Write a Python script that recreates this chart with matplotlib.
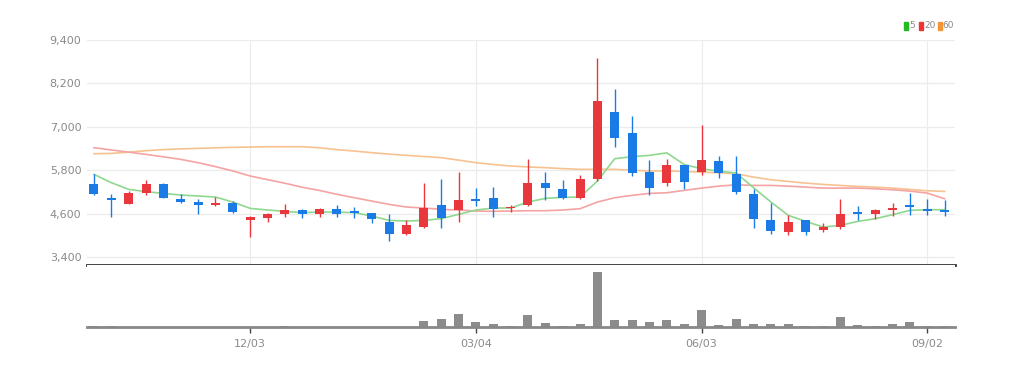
import matplotlib
matplotlib.use("Agg")
import matplotlib.pyplot as plt
from matplotlib.patches import Rectangle
import numpy as np

# ---- data (weekly candles) ----
opens  = [5428, 5040, 4874, 5179, 5428, 4994, 4921, 4828, 4902, 4414,
          4469, 4579, 4690, 4579, 4718, 4672, 4607, 4377, 4027, 4238,
          4828, 4699, 5012, 5040, 4746, 4828, 5455, 5289, 5031, 5547,
          7418, 6819, 5759, 5455, 5950, 5748, 6042, 5702, 5150, 4414,
          4092, 4414, 4138, 4230, 4644, 4598, 4699, 4828, 4727, 4690]
closes = [5133, 4967, 5160, 5428, 5040, 4921, 4837, 4885, 4653, 4515,
          4580, 4699, 4580, 4718, 4579, 4626, 4460, 4027, 4275, 4764,
          4469, 4976, 4948, 4736, 4792, 5437, 5308, 5040, 5547, 7713,
          6681, 5732, 5317, 5944, 5471, 6079, 5729, 5196, 4441, 4120,
          4369, 4092, 4230, 4579, 4598, 4690, 4764, 4773, 4671, 4644]
highs  = [5686, 5133, 5225, 5520, 5440, 5133, 4994, 5068, 4948, 4530,
          4625, 4874, 4718, 4764, 4830, 4783, 4625, 4580, 4414, 5437,
          5566, 5750, 5317, 5335, 4828, 6100, 5750, 5520, 5658, 8911,
          8036, 7299, 6073, 6100, 5950, 7063, 6190, 6180, 5288, 4892,
          4570, 4414, 4340, 4993, 4800, 4736, 4892, 5168, 4993, 4966]
lows   = [5115, 4515, 4855, 5105, 5030, 4902, 4597, 4810, 4625, 3944,
          4368, 4515, 4487, 4515, 4515, 4487, 4350, 3843, 4000, 4210,
          4192, 4377, 4810, 4515, 4644, 4810, 4976, 4994, 5013, 5500,
          6441, 5640, 5115, 5363, 5268, 5656, 5590, 5131, 4211, 4027,
          4000, 4000, 4092, 4165, 4414, 4460, 4534, 4570, 4552, 4534]
volumes = [0.8, 0.8, 0.3, 0.3, 0.3, 0.3, 0.3, 0.3, 0.3, 0.3,
           0.3, 0.8, 0.3, 0.3, 0.3, 0.3, 0.3, 0.3, 0.3, 6.0,
           7.7, 12.7, 4.7, 2.7, 1.0, 12.3, 4.3, 1.0, 3.0, 54.7,
           7.3, 7.3, 4.7, 7.3, 3.0, 17.3, 2.3, 8.0, 3.0, 2.7,
           3.0, 1.0, 1.0, 9.7, 2.3, 1.0, 2.7, 4.7, 0.7, 0.7]
ma5  = [5686, 5456, 5271, 5207, 5160, 5114, 5087, 5059, 4920, 4745,
        4700, 4663, 4626, 4644, 4644, 4626, 4534, 4414, 4396, 4414,
        4460, 4580, 4699, 4755, 4755, 4920, 5022, 5050, 5059, 5500,
        6119, 6174, 6211, 6280, 5959, 5840, 5775, 5720, 5315, 4920,
        4552, 4386, 4230, 4276, 4386, 4460, 4570, 4690, 4708, 4708]
ma20 = [6423, 6360, 6300, 6239, 6170, 6100, 6008, 5900, 5780, 5640,
        5540, 5440, 5330, 5240, 5133, 5040, 4948, 4856, 4783, 4755,
        4718, 4699, 4672, 4663, 4672, 4681, 4681, 4699, 4736, 4920,
        5040, 5105, 5160, 5177, 5242, 5306, 5361, 5398, 5380, 5380,
        5361, 5333, 5306, 5306, 5306, 5287, 5260, 5223, 5168, 5012]
ma60 = [6257, 6265, 6300, 6340, 6370, 6390, 6404, 6420, 6432, 6441,
        6450, 6450, 6450, 6420, 6370, 6330, 6285, 6245, 6211, 6180,
        6147, 6080, 6008, 5960, 5916, 5890, 5870, 5845, 5824, 5824,
        5824, 5800, 5778, 5780, 5766, 5747, 5729, 5702, 5610, 5536,
        5490, 5444, 5407, 5380, 5352, 5333, 5306, 5269, 5232, 5214]
tick_idx = [9, 22, 35, 48]
tick_labels = ["12/03", "03/04", "06/03", "09/02"]
price_ticks = [3400, 4600, 5800, 7000, 8200, 9400]
legend_labels = ["5", "20", "60"]

# ---- style ----
RED = "#e8383d"
BLUE = "#1a7be6"
C5, C20, C60 = "#8fd88f", "#f5a3a3", "#f7c290"
FONT = ["Liberation Sans Narrow", "DejaVu Sans"]
plt.rcParams["font.family"] = FONT

W, H = 1018, 368
fig = plt.figure(figsize=(W / 100, H / 100), dpi=100)

L, R = 87 / W, 955 / W
ax = fig.add_axes([L, 1 - 265 / H, R - L, (265 - 40) / H])
axv = fig.add_axes([L, 1 - 327 / H, R - L, (327 - 265) / H])

n = len(opens)
x = np.arange(n)
xlim = (-0.4, n - 0.4)

# price panel
for xs in tick_idx:
    ax.axvline(xs, color="#ececec", lw=0.8, zorder=0)
for pt in price_ticks:
    ax.axhline(pt, color="#ececec", lw=1.0, zorder=0)

ax.plot(x, ma60, color=C60, lw=1.2, zorder=2)
ax.plot(x, ma20, color=C20, lw=1.2, zorder=2)
ax.plot(x, ma5, color=C5, lw=1.2, zorder=2)

bw = 0.52
for i in range(n):
    o, c, h, l = opens[i], closes[i], highs[i], lows[i]
    col = RED if c >= o else BLUE
    ax.vlines(i, l, h, color=col, lw=1.0, zorder=3)
    bot, top = min(o, c), max(o, c)
    ax.bar(i, max(top - bot, 25), bottom=bot, width=bw, color=col,
           edgecolor="none", zorder=4)

ax.set_xlim(*xlim)
ax.set_ylim(3180, 9400)
ax.set_yticks(price_ticks)
ax.set_yticklabels([f"{v:,}" for v in price_ticks])
ax.tick_params(axis="y", length=0, pad=4, labelsize=8, labelcolor="#8a8a8a")
ax.set_xticks([])
for s in ["top", "left", "right"]:
    ax.spines[s].set_visible(False)
ax.spines["bottom"].set_color("#333333")
ax.spines["bottom"].set_linewidth(2.0)

# volume panel
axv.bar(x, volumes, width=bw, color="#8c8c8c", edgecolor="none", zorder=2)
axv.set_xlim(*xlim)
axv.set_ylim(0, max(volumes) * 62 / 54.7)
axv.set_yticks([])
for s in ["top", "left", "right"]:
    axv.spines[s].set_visible(False)
axv.spines["bottom"].set_color("#888888")
axv.spines["bottom"].set_linewidth(2.0)
axv.set_xticks(tick_idx)
axv.set_xticklabels(tick_labels)
axv.tick_params(axis="x", length=4, width=1, color="#444444", pad=5,
                labelsize=8, labelcolor="#8a8a8a")

# legend (small colour bars + labels)
sq_x = [904, 919, 938]
txt_x = [909, 924, 942]
for sx, tx, lab, col in zip(sq_x, txt_x, legend_labels,
                            ["#22bb22", "#ee3333", "#f59433"]):
    fig.patches.append(Rectangle((sx / W, 1 - 30 / H), 3.5 / W, 8 / H,
                                 transform=fig.transFigure, color=col,
                                 figure=fig))
    fig.text(tx / W, 1 - 26 / H, lab, color="#8a8a8a", fontsize=6.5,
             ha="left", va="center")

fig.savefig("out.png", dpi=100, facecolor="white")
